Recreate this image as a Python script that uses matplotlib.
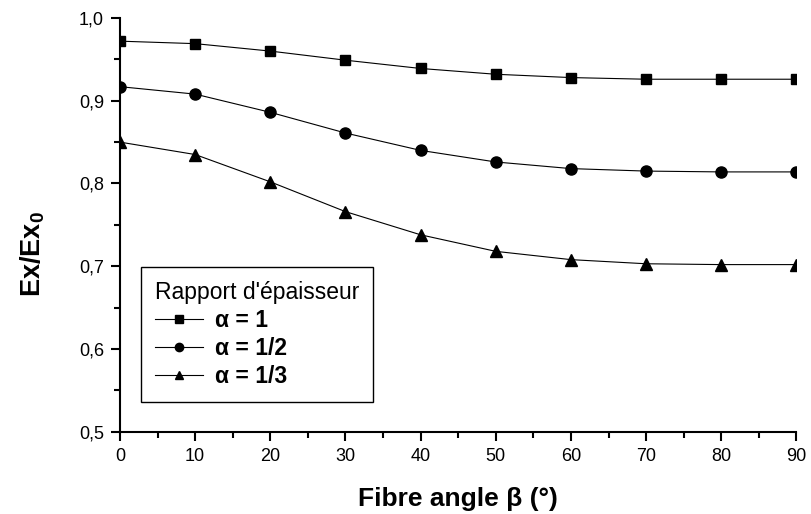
import numpy as np
import matplotlib
matplotlib.use('Agg')
import matplotlib.pyplot as plt
from matplotlib.ticker import MultipleLocator, FuncFormatter

plt.rcParams['font.family'] = ['Liberation Sans', 'DejaVu Sans']
plt.rcParams['mathtext.fontset'] = 'custom'
plt.rcParams['mathtext.rm'] = 'Liberation Sans'
plt.rcParams['mathtext.bf'] = 'Liberation Sans:bold'

# Data
angle = np.array([0, 10, 20, 30, 40, 50, 60, 70, 80, 90])
alpha_1 = np.array([0.972, 0.969, 0.960, 0.949, 0.939, 0.932, 0.928, 0.926, 0.926, 0.926])
alpha_1_2 = np.array([0.917, 0.908, 0.886, 0.861, 0.840, 0.826, 0.818, 0.815, 0.814, 0.814])
alpha_1_3 = np.array([0.850, 0.835, 0.802, 0.766, 0.738, 0.718, 0.708, 0.703, 0.702, 0.702])
labels = ['\u03b1 = 1', '\u03b1 = 1/2', '\u03b1 = 1/3']

fig = plt.figure(figsize=(8.11, 5.14), dpi=100)
ax = fig.add_axes([0.148, 0.16, 0.834, 0.805])

ax.plot(angle, alpha_1, '-s', color='black', lw=0.8, ms=7, label=labels[0])
ax.plot(angle, alpha_1_2, '-o', color='black', lw=0.8, ms=8, label=labels[1])
ax.plot(angle, alpha_1_3, '-^', color='black', lw=0.8, ms=8.5, label=labels[2])

ax.set_xlim(0, 90)
ax.set_ylim(0.5, 1.0)
ax.xaxis.set_major_locator(MultipleLocator(10))
ax.xaxis.set_minor_locator(MultipleLocator(5))
ax.yaxis.set_major_locator(MultipleLocator(0.1))
ax.yaxis.set_minor_locator(MultipleLocator(0.05))
ax.yaxis.set_major_formatter(FuncFormatter(lambda v, p: f'{v:.1f}'.replace('.', ',')))

for s in ['top', 'right']:
    ax.spines[s].set_visible(False)
for s in ['left', 'bottom']:
    ax.spines[s].set_linewidth(1.5)
ax.tick_params(which='major', direction='out', length=6.5, width=1.5, labelsize=13, pad=5)
ax.tick_params(which='minor', direction='out', length=4, width=1.5)

ax.set_xlabel('Fibre angle \u03b2 (\u00b0)', fontsize=19, fontweight='bold', labelpad=16)
ax.set_ylabel(r'$\mathbf{Ex/Ex_0}$', fontsize=19.5)
ax.yaxis.set_label_coords(-0.108, 0.43)

leg = ax.legend(title="Rapport d'\u00e9paisseur", loc='lower left',
                bbox_to_anchor=(0.031, 0.072), borderaxespad=0,
                prop={'weight': 'bold', 'size': 16.5}, title_fontsize=16.5,
                fancybox=False, edgecolor='black', markerscale=0.75,
                handlelength=2.1, handletextpad=0.55, borderpad=0.6,
                labelspacing=0.22, framealpha=1)
leg.get_frame().set_linewidth(1.0)
leg._legend_box.align = 'left'

fig.savefig('out.png', dpi=100)
